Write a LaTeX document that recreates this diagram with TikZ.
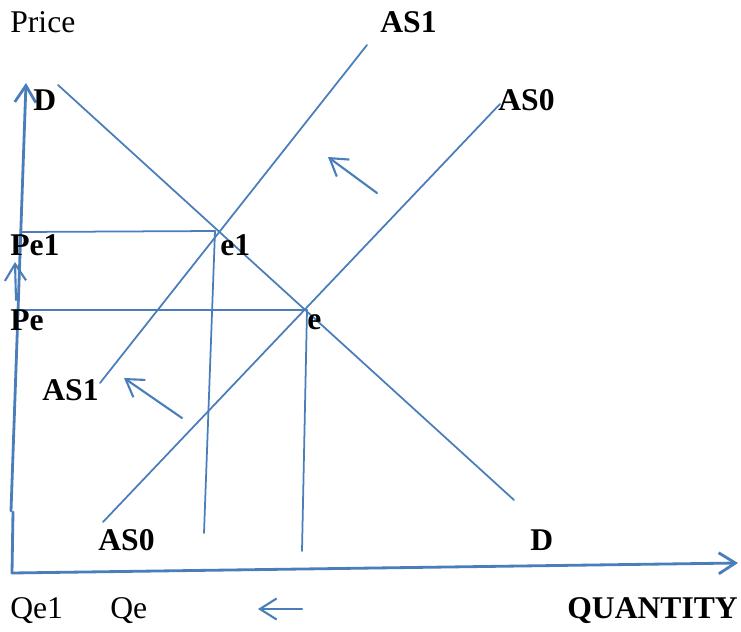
\documentclass[tikz,border=0pt]{standalone}
\usepackage{fontspec}
\setmainfont{Liberation Serif}
\usepackage{tikz}
\usetikzlibrary{arrows.meta}
\definecolor{lineblue}{RGB}{74,126,187}
\tikzset{
  axisl/.style={draw=lineblue, line width=1.6pt},
  curvel/.style={draw=lineblue, line width=1pt},
  barb/.style={-{Straight Barb[length=9.5pt,width=12pt]}},
  shiftarr/.style={draw=lineblue, line width=1.2pt, barb},
  lbl/.style={anchor=west, inner sep=0pt, font=\fontsize{18}{21}\selectfont},
  blbl/.style={lbl, font=\fontsize{18}{21}\selectfont\bfseries},
  every picture/.style={line cap=round, line join=round}
}

\begin{document}
\begin{tikzpicture}[x=0.02cm,y=-0.02cm]
  \useasboundingbox (0,0) rectangle (741,632);

  % axes
  \coordinate (O) at (12,573);
  \coordinate (ybrk) at (13,512);
  \coordinate (ybrk2) at (11,511);
  \coordinate (ytop) at (26,83);
  \coordinate (xend) at (738,563);
  \draw[axisl, barb] (ybrk) -- (O) -- (xend);
  \draw[axisl, barb] (ybrk2) -- (ytop);
  \coordinate (pup0) at (16,300);
  \coordinate (pup1) at (15,262);
  \draw[shiftarr] (pup0) -- (pup1);

  % demand and supply
  \coordinate (Dhi) at (58,85);
  \coordinate (Dlo) at (514,500);
  \coordinate (AS1lo) at (100,383);
  \coordinate (AS1hi) at (367,45);
  \coordinate (AS0lo) at (103,522);
  \coordinate (AS0hi) at (500,104);
  \draw[curvel] (Dhi) -- (Dlo);
  \draw[curvel] (AS1lo) -- (AS1hi);
  \draw[curvel] (AS0lo) -- (AS0hi);

  % equilibria
  \coordinate (e1) at (215,231);
  \coordinate (e) at (307,310);
  \coordinate (pe1) at (22,232);
  \coordinate (pe) at (15,310);
  \coordinate (qe1) at (204,533);
  \coordinate (qe) at (302,551);
  \draw[curvel] (pe1) -- (e1) -- (qe1);
  \draw[curvel] (pe) -- (e) -- (qe);

  % shift arrows
  \coordinate (s1a) at (377,193);
  \coordinate (s1b) at (328,157);
  \coordinate (s2a) at (182,418);
  \coordinate (s2b) at (124,378);
  \coordinate (s3a) at (302,609);
  \coordinate (s3b) at (258,609);
  \draw[shiftarr] (s1a) -- (s1b);
  \draw[shiftarr] (s2a) -- (s2b);
  \draw[shiftarr] (s3a) -- (s3b);

  % labels
  \node[lbl] (price) at (10,22) {Price};
  \node[blbl] (as1t) at (380,22) {AS1};
  \node[blbl] (dt) at (33,100) {D};
  \node[blbl] (as0t) at (498,100) {AS0};
  \node[blbl] (pe1l) at (10,245) {Pe1};
  \node[blbl] (e1l) at (220,245) {e1};
  \node[blbl] (pel) at (10,320) {Pe};
  \node[blbl] (el) at (307,322) {e};
  \node[blbl] (as1b) at (42,390) {AS1};
  \node[blbl] (as0b) at (98,540) {AS0};
  \node[blbl] (db) at (530,540) {D};
  \node[lbl] (qe1l) at (10,611) {Qe1};
  \node[lbl] (qel) at (110,611) {Qe};
  \node[blbl] (qty) at (567,611) {QUANTITY};
\end{tikzpicture}
\end{document}
